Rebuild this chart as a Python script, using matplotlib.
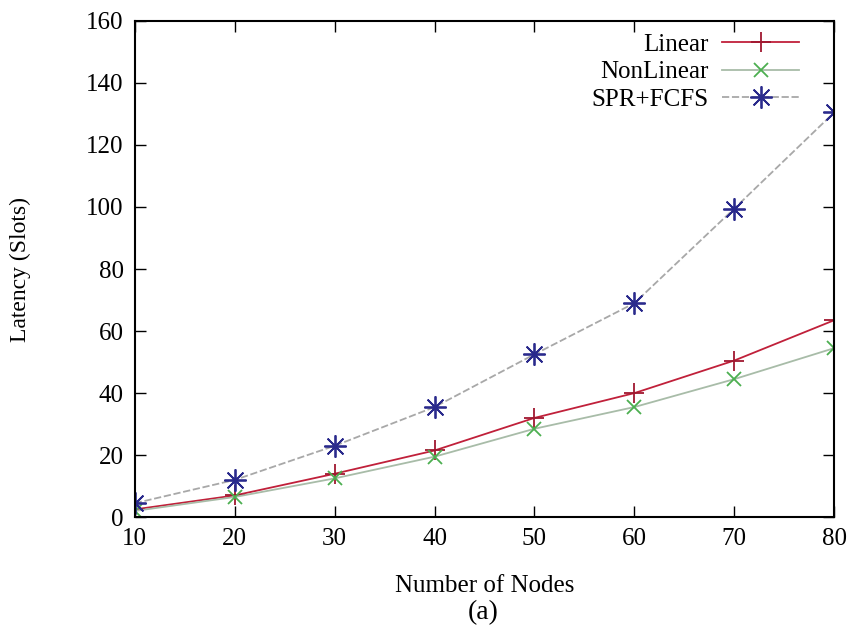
import matplotlib
matplotlib.use("Agg")
import matplotlib.pyplot as plt
from matplotlib.ticker import MultipleLocator

plt.rcParams['font.family'] = ['Liberation Serif', 'DejaVu Serif']

nodes = [10, 20, 30, 40, 50, 60, 70, 80]
linear = [2.5, 7, 14, 21.5, 32, 40, 50.5, 63.5]
nonlinear = [2, 6.5, 12.5, 19.5, 28.5, 35.5, 44.5, 54.5]
spr_fcfs = [4.5, 12, 23, 35.5, 52.5, 69, 99.5, 130.5]

fig = plt.figure(figsize=(8.53, 6.33), dpi=100)
ax = fig.add_axes([0.158, 0.183, 0.820, 0.784])

ax.plot(nodes, linear, color='#c0203a', lw=1.3, marker='+', ms=14, mew=1.3,
        mec='#a01830', label='Linear')
ax.plot(nodes, nonlinear, color='#a8bca8', lw=1.3, marker='x', ms=10, mew=1.3,
        mec='#4caf50', label='NonLinear')
ax.plot(nodes, spr_fcfs, color='#a8a8a8', lw=1.3, ls=(0, (4, 1.5)), marker=(8, 2, 0),
        ms=16, mew=1.3, mec='#2a2a8c', label='SPR+FCFS')

ax.set_xlim(10, 80)
ax.set_ylim(0, 160)
ax.xaxis.set_major_locator(MultipleLocator(10))
ax.yaxis.set_major_locator(MultipleLocator(20))
ax.tick_params(direction='in', length=8, width=1, top=True, right=True,
               labelsize=18, pad=8)
for s in ax.spines.values():
    s.set_linewidth(1.5)

ax.set_xlabel('Number of Nodes', fontsize=18, labelpad=18)
ax.set_ylabel('Latency (Slots)', fontsize=17, labelpad=40)
fig.text(0.567, 0.022, '(a)', fontsize=20, ha='center')

leg = ax.legend(loc='upper right', frameon=False, markerfirst=False, fontsize=18,
                handlelength=3.1, labelspacing=0.2, borderaxespad=0.1,
                handletextpad=0.55, bbox_to_anchor=(0.968, 1.0))

fig.savefig('out.png', dpi=100)
